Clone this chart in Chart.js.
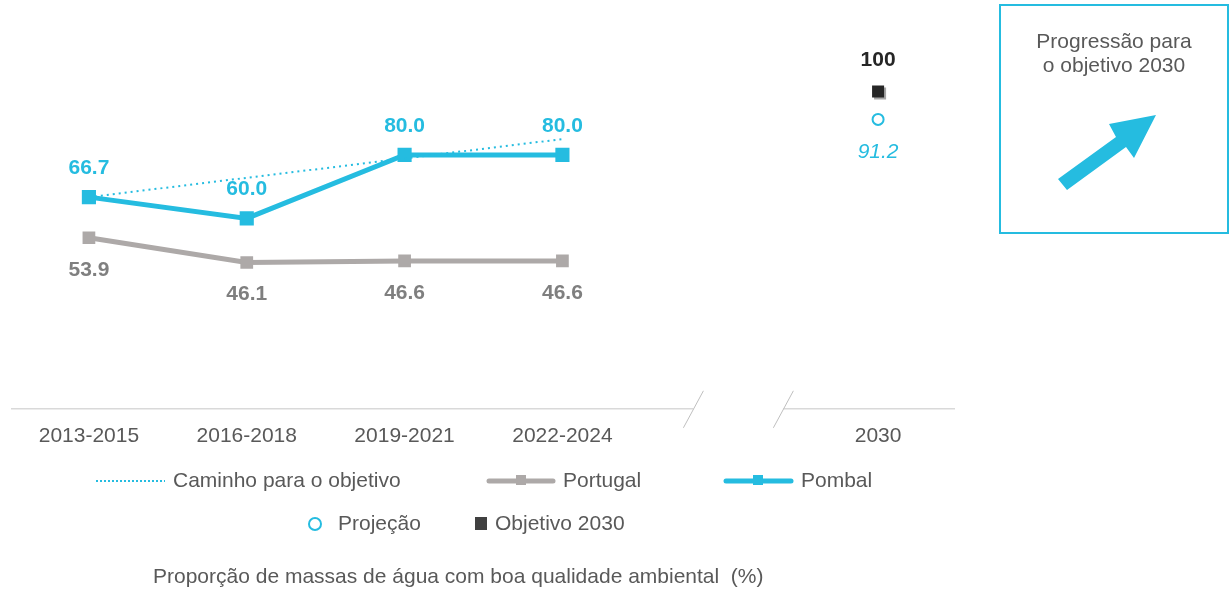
<!DOCTYPE html>
<html>
<head>
<meta charset="utf-8">
<script src="https://cdn.jsdelivr.net/npm/chart.js@4"></script>
<style>
  html, body { margin: 0; padding: 0; background: #fff; }
  #wrap { position: relative; width: 1232px; height: 595px; font-family: "Liberation Sans", Arial, sans-serif; }
  #box { position: absolute; left: 999px; top: 4px; width: 226px; height: 226px; border: 2px solid #25BCE0; }
  #box .t { position: absolute; left: 0; top: 23px; width: 100%; text-align: center; font-size: 21px; line-height: 24px; color: #595959; }
  #box svg { position: absolute; left: 0; top: 0; }
</style>
</head>
<body>
<div id="wrap">
  <canvas id="chart" width="1232" height="595"></canvas>
  <div id="box">
    <div class="t">Progressão para<br>o objetivo 2030</div>
    <svg width="226" height="226" viewBox="0 0 226 226">
      <polygon points="57,173 66,184 125,141 133,152 155,109 108,118 115,131" fill="#25BCE0"/>
    </svg>
  </div>
</div>
<script>
var categories = ["2013-2015", "2016-2018", "2019-2021", "2022-2024", "", "2030"];
var caminho  = [66.7, 72.8, 78.9, 85.0, null, null];
var portugal = [53.9, 46.1, 46.6, 46.6, null, null];
var pombal   = [66.7, 60.0, 80.0, 80.0, null, null];
var projecao = [null, null, null, null, null, 91.2];
var objetivo = [null, null, null, null, null, 100];

var cyan = "#25BCE0";
var grey = "#ADA9A8";
var FONT = "'Liberation Sans', Arial, sans-serif";

// value labels, axis with break, shadow on target square, custom legend
var extras = {
  id: "extras",
  beforeDatasetDraw: function (chart, args) {
    if (args.index === 4) {
      var c = chart.ctx;
      c.save();
      c.shadowColor = "#A6A6A6";
      c.shadowOffsetX = 2;
      c.shadowOffsetY = 2;
      c.shadowBlur = 0;
    }
  },
  afterDatasetDraw: function (chart, args) {
    if (args.index === 4) chart.ctx.restore();
  },
  afterDraw: function (chart) {
    var c = chart.ctx;
    var xs = chart.scales.x;
    var area = chart.chartArea;
    var step = xs.getPixelForValue(1) - xs.getPixelForValue(0);
    var x3 = xs.getPixelForValue(3), x4 = xs.getPixelForValue(4);
    var y0 = area.bottom;

    // axis line with break
    var b1 = x3 + 0.83 * step, b2 = x4 + 0.4 * step;
    c.save();
    c.strokeStyle = "#D9D9D9";
    c.lineWidth = 1.5;
    c.beginPath();
    c.moveTo(area.left + 1, y0); c.lineTo(b1, y0);
    c.moveTo(b2, y0); c.lineTo(area.right - 2, y0);
    c.stroke();
    c.strokeStyle = "#BFBFBF";
    c.lineWidth = 1;
    [b1, b2].forEach(function (bx) {
      c.beginPath();
      c.moveTo(bx + 10, y0 - 18);
      c.lineTo(bx - 10, y0 + 19);
      c.stroke();
    });
    c.restore();

    // value labels
    function labels(di, arr, color, dy, font, digits) {
      var meta = chart.getDatasetMeta(di);
      c.save();
      c.fillStyle = color;
      c.font = font;
      c.textAlign = "center";
      c.textBaseline = "middle";
      arr.forEach(function (v, i) {
        if (v === null) return;
        var p = meta.data[i];
        c.fillText(v.toFixed(digits), p.x, p.y + dy);
      });
      c.restore();
    }
    labels(2, pombal, cyan, -29, "bold 21px " + FONT, 1);
    labels(1, portugal, "#7F7F7F", 32, "bold 21px " + FONT, 1);
    labels(4, objetivo, "#262626", -31, "bold 21px " + FONT, 0);
    labels(3, projecao, cyan, 33, "italic 21px " + FONT, 1);

    // legend
    c.save();
    c.font = "21px " + FONT;
    c.fillStyle = "#595959";
    c.textBaseline = "middle";
    var ly = 481;
    c.strokeStyle = cyan; c.lineWidth = 2; c.setLineDash([2, 2]);
    c.beginPath(); c.moveTo(96, ly); c.lineTo(165, ly); c.stroke();
    c.setLineDash([]);
    c.fillText("Caminho para o objetivo", 173, ly);

    c.lineCap = "round";
    c.strokeStyle = grey; c.lineWidth = 5;
    c.beginPath(); c.moveTo(489, ly); c.lineTo(553, ly); c.stroke();
    c.fillStyle = grey; c.fillRect(516, ly - 6, 10, 10);
    c.strokeStyle = cyan;
    c.beginPath(); c.moveTo(726, ly); c.lineTo(791, ly); c.stroke();
    c.fillStyle = cyan; c.fillRect(753, ly - 6, 10, 10);
    c.fillStyle = "#595959";
    c.fillText("Portugal", 563, ly);
    c.fillText("Pombal", 801, ly);

    var ly2 = 524;
    c.strokeStyle = cyan; c.lineWidth = 2;
    c.beginPath(); c.arc(315, ly2, 6, 0, Math.PI * 2); c.stroke();
    c.fillText("Projeção", 338, ly2);
    c.fillStyle = "#404040";
    c.fillRect(475, ly2 - 7, 12, 13);
    c.fillStyle = "#595959";
    c.fillText("Objetivo 2030", 495, ly2);

    c.fillText("Proporção de massas de água com boa qualidade ambiental  (%)", 153, 577);
    c.restore();
  }
};

new Chart(document.getElementById("chart"), {
  type: "line",
  data: {
    labels: categories,
    datasets: [
      { label: "Caminho para o objetivo", data: caminho, borderColor: cyan, borderWidth: 2,
        borderDash: [2, 4], pointRadius: 0, fill: false },
      { label: "Portugal", data: portugal, borderColor: grey, backgroundColor: grey, borderWidth: 5,
        pointStyle: "rect", pointRadius: 9, pointBorderWidth: 0 },
      { label: "Pombal", data: pombal, borderColor: cyan, backgroundColor: cyan, borderWidth: 5,
        pointStyle: "rect", pointRadius: 10, pointBorderWidth: 0 },
      { label: "Projeção", data: projecao, borderColor: cyan, backgroundColor: "#fff", borderWidth: 2,
        pointStyle: "circle", pointRadius: 5.5, pointBorderWidth: 2, showLine: false },
      { label: "Objetivo 2030", data: objetivo, borderColor: "#262626", backgroundColor: "#262626",
        pointStyle: "rect", pointRadius: 8.5, pointBorderWidth: 0, showLine: false }
    ]
  },
  options: {
    responsive: false,
    animation: false,
    layout: { padding: { left: 9, right: 275, top: 28, bottom: 131 } },
    plugins: { legend: { display: false }, tooltip: { enabled: false } },
    scales: {
      x: {
        offset: true,
        grid: { display: false, drawTicks: false, offset: true },
        border: { display: false },
        ticks: { color: "#595959", padding: 15, maxRotation: 0, autoSkip: false,
                 font: { family: FONT, size: 21 } }
      },
      y: { display: false, min: 0, max: 120 }
    }
  },
  plugins: [extras]
});
</script>
</body>
</html>
